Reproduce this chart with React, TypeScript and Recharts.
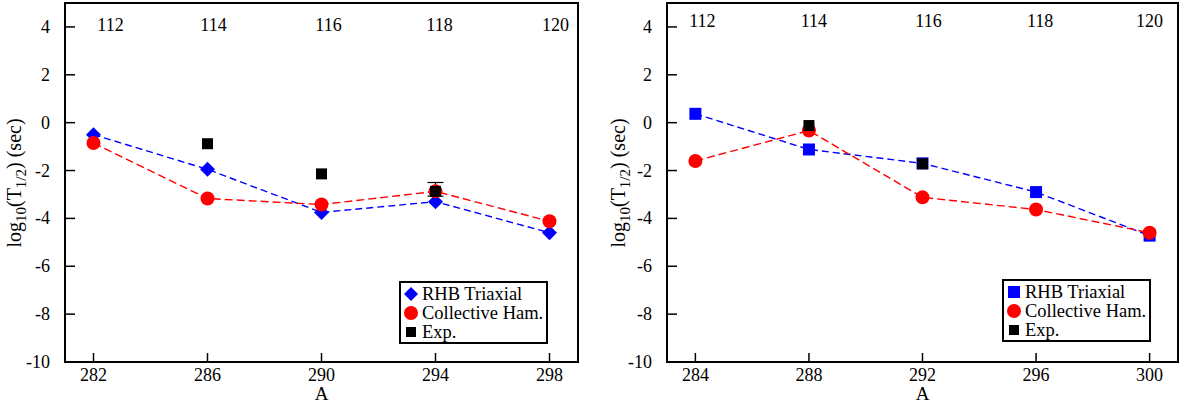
import { ComposedChart, Line, XAxis, YAxis, ReferenceArea, ErrorBar, Legend, Label } from "recharts";

const FONT = "'Liberation Serif', 'Times New Roman', serif";

// left panel
const leftA = [282, 286, 290, 294, 298];
const leftZ = [112, 114, 116, 118, 120];
const leftRhb = [-0.5, -1.95, -3.75, -3.3, -4.6];
const leftColl = [-0.85, -3.17, -3.42, -2.87, -4.12];
const leftExpA = [286, 290, 294];
const leftExp = [-0.88, -2.14, -2.87];
const leftExpErr: ([number, number] | null)[] = [null, null, [0.2, 0.37]];

// right panel
const rightA = [284, 288, 292, 296, 300];
const rightZ = [112, 114, 116, 118, 120];
const rightRhb = [0.37, -1.12, -1.7, -2.9, -4.72];
const rightColl = [-1.6, -0.33, -3.12, -3.63, -4.6];
const rightExpA = [288, 292];
const rightExp = [-0.12, -1.72];
const rightExpErr: ([number, number] | null)[] = [null, null];

const yTicks = [-10, -8, -6, -4, -2, 0, 2, 4];

const rows = (a: number[], v: number[], err?: ([number, number] | null)[]) =>
  a.map((x, i) => ({ A: x, v: v[i], err: err ? err[i] : null }));

function Diamond({ cx, cy, r, fill }: any) {
  return <polygon points={`${cx},${cy - r} ${cx + r},${cy} ${cx},${cy + r} ${cx - r},${cy}`} fill={fill} />;
}

function Square({ cx, cy, s, fill }: any) {
  return <rect x={cx - s / 2} y={cy - s / 2} width={s} height={s} fill={fill} />;
}

// bottom tick: inward tick mark, A label below, Z label along the top of the frame
function XTick({ x, y, payload, zLabel, zShift, zBaseline, plotTop }: any) {
  const z = zLabel(payload.value);
  return (
    <g>
      <line x1={x} x2={x} y1={y} y2={y - 9} stroke="#000" strokeWidth={1.5} />
      <text x={x} y={y + 19} textAnchor="middle" fontFamily={FONT} fontSize={18} fill="#000">
        {payload.value}
      </text>
      <text x={x + zShift(payload.value)} y={plotTop + zBaseline} textAnchor="middle" fontFamily={FONT} fontSize={18} fill="#000">
        {z}
      </text>
    </g>
  );
}

function YTick({ x, y, payload }: any) {
  return (
    <g>
      <line x1={x} x2={x + 10} y1={y} y2={y} stroke="#000" strokeWidth={1.5} />
      <text x={x - 15} y={y + 6} textAnchor="end" fontFamily={FONT} fontSize={18} fill="#000">
        {payload.value}
      </text>
    </g>
  );
}

function LegendSymbol({ kind, color }: { kind: string; color: string }) {
  return (
    <svg width={20} height={18} style={{ display: "block" }}>
      {kind === "diamond" && <Diamond cx={10} cy={9} r={7} fill={color} />}
      {kind === "circle" && <circle cx={10} cy={9} r={7} fill={color} />}
      {kind === "square" && <Square cx={10} cy={9} s={12} fill={color} />}
      {kind === "small" && <Square cx={10} cy={9} s={10} fill={color} />}
    </svg>
  );
}

function PanelLegend({ rhbKind }: { rhbKind: string }) {
  const items = [
    { kind: rhbKind, color: "#0000ff", text: "RHB Triaxial" },
    { kind: "circle", color: "#ff0000", text: "Collective Ham." },
    { kind: "small", color: "#000", text: "Exp." },
  ];
  return (
    <div
      style={{
        width: 149,
        height: 63,
        boxSizing: "border-box",
        border: "2px solid #000",
        background: "#fff",
        paddingTop: 2,
        fontFamily: FONT,
        fontSize: 18.5,
        color: "#000",
      }}
    >
      {items.map((it) => (
        <div key={it.text} style={{ display: "flex", alignItems: "center", height: 18.7 }}>
          <LegendSymbol kind={it.kind} color={it.color} />
          <span style={{ marginLeft: 1, lineHeight: "18px", whiteSpace: "nowrap" }}>{it.text}</span>
        </div>
      ))}
    </div>
  );
}

interface PanelProps {
  left: number;
  width: number;
  yAxisWidth: number;
  marginRight: number;
  a: number[];
  z: number[];
  rhb: number[];
  coll: number[];
  expA: number[];
  exp: number[];
  expErr: ([number, number] | null)[];
  domain: [number, number];
  rhbKind: string;
  zBaseline: number;
  zShift: number[];
  yLabelX: number;
  legendPos: { left: number; top: number };
}

function Panel(p: PanelProps) {
  const rhbData = rows(p.a, p.rhb);
  const collData = rows(p.a, p.coll);
  const expData = rows(p.expA, p.exp, p.expErr);
  const errData = expData.filter((r) => r.err != null);
  const zLabel = (A: number) => p.z[p.a.indexOf(A)];
  const zShift = (A: number) => p.zShift[p.a.indexOf(A)] ?? 6;

  return (
    <div style={{ position: "absolute", left: p.left, top: 0 }}>
      <ComposedChart width={p.width} height={404} margin={{ top: 3, right: p.marginRight, bottom: 0, left: 0 }}>
        <XAxis
          dataKey="A"
          type="number"
          domain={p.domain}
          ticks={p.a}
          interval={0}
          height={42}
          axisLine={false}
          tickLine={false}
          tickSize={0}
          tickMargin={0}
          tick={<XTick zLabel={zLabel} zShift={zShift} zBaseline={p.zBaseline} plotTop={3} />}
          allowDataOverflow
        >
          <Label
            content={({ viewBox }: any) => (
              <text x={viewBox.x + viewBox.width / 2} y={400} textAnchor="middle" fontFamily={FONT} fontSize={19} fill="#000">
                A
              </text>
            )}
          />
        </XAxis>
        <YAxis
          type="number"
          domain={[-10, 5]}
          ticks={yTicks}
          interval={0}
          width={p.yAxisWidth}
          axisLine={false}
          tickLine={false}
          tickSize={0}
          tickMargin={0}
          tick={<YTick />}
          allowDataOverflow
        >
          <Label
            content={() => {
              const cx = p.yLabelX;
              const cy = 183;
              return (
                <text
                  x={cx}
                  y={cy}
                  transform={`rotate(-90, ${cx}, ${cy})`}
                  textAnchor="middle"
                  fontFamily={FONT}
                  fontSize={20}
                  fill="#000"
                >
                  log
                  <tspan dy={5} fontSize={15}>10</tspan>
                  <tspan dy={-5}>(T</tspan>
                  <tspan dy={5} fontSize={15}>1/2</tspan>
                  <tspan dy={-5}>) (sec)</tspan>
                </text>
              );
            }}
          />
        </YAxis>
        <Legend
          verticalAlign="middle"
          align="center"
          layout="horizontal"
          wrapperStyle={{ position: "absolute", left: p.legendPos.left, top: p.legendPos.top, width: 149 }}
          content={() => <PanelLegend rhbKind={p.rhbKind} />}
        />
        <Line
          data={rhbData}
          dataKey="v"
          stroke="#0000ff"
          strokeWidth={1.4}
          strokeDasharray="7 4"
          isAnimationActive={false}
          legendType="none"
          dot={(d: any) =>
            p.rhbKind === "diamond" ? (
              <Diamond key={`r${d.index}`} cx={d.cx} cy={d.cy} r={7.5} fill="#0000ff" />
            ) : (
              <Square key={`r${d.index}`} cx={d.cx} cy={d.cy} s={12} fill="#0000ff" />
            )
          }
          activeDot={false}
        />
        <Line
          data={collData}
          dataKey="v"
          stroke="#ff0000"
          strokeWidth={1.4}
          strokeDasharray="8 4"
          isAnimationActive={false}
          legendType="none"
          dot={(d: any) => <circle key={`c${d.index}`} cx={d.cx} cy={d.cy} r={7} fill="#ff0000" />}
          activeDot={false}
        />
        {errData.length > 0 && (
          <Line
            data={errData}
            dataKey="v"
            stroke="none"
            dot={false}
            activeDot={false}
            legendType="none"
            isAnimationActive={false}
          >
            <ErrorBar dataKey="err" direction="y" width={8} stroke="#000" strokeWidth={1.2} />
          </Line>
        )}
        <Line
          data={expData}
          dataKey="v"
          stroke="none"
          isAnimationActive={false}
          legendType="none"
          dot={(d: any) => <Square key={`e${d.index}`} cx={d.cx} cy={d.cy} s={11} fill="#000" />}
          activeDot={false}
        />
        <ReferenceArea
          x1={p.domain[0]}
          x2={p.domain[1]}
          y1={-10}
          y2={5}
          fill="none"
          stroke="#000"
          strokeWidth={2}
          ifOverflow="visible"
        />
      </ComposedChart>
    </div>
  );
}

export default function App() {
  return (
    <div style={{ position: "absolute", left: 0, top: 0, width: 1179, height: 404, background: "#fff" }}>
      <Panel
        left={0}
        width={600}
        yAxisWidth={65}
        marginRight={22}
        a={leftA}
        z={leftZ}
        rhb={leftRhb}
        coll={leftColl}
        expA={leftExpA}
        exp={leftExp}
        expErr={leftExpErr}
        domain={[281, 299]}
        rhbKind="diamond"
        zBaseline={28}
        zShift={[17, 6, 7, 4, 6]}
        yLabelX={21}
        legendPos={{ left: 399, top: 281 }}
      />
      <Panel
        left={600}
        width={579}
        yAxisWidth={67}
        marginRight={1}
        a={rightA}
        z={rightZ}
        rhb={rightRhb}
        coll={rightColl}
        expA={rightExpA}
        exp={rightExp}
        expErr={rightExpErr}
        domain={[283, 301]}
        rhbKind="square"
        zBaseline={24}
        zShift={[7, 5, 6, 4, 0]}
        yLabelX={25}
        legendPos={{ left: 402, top: 279 }}
      />
    </div>
  );
}
